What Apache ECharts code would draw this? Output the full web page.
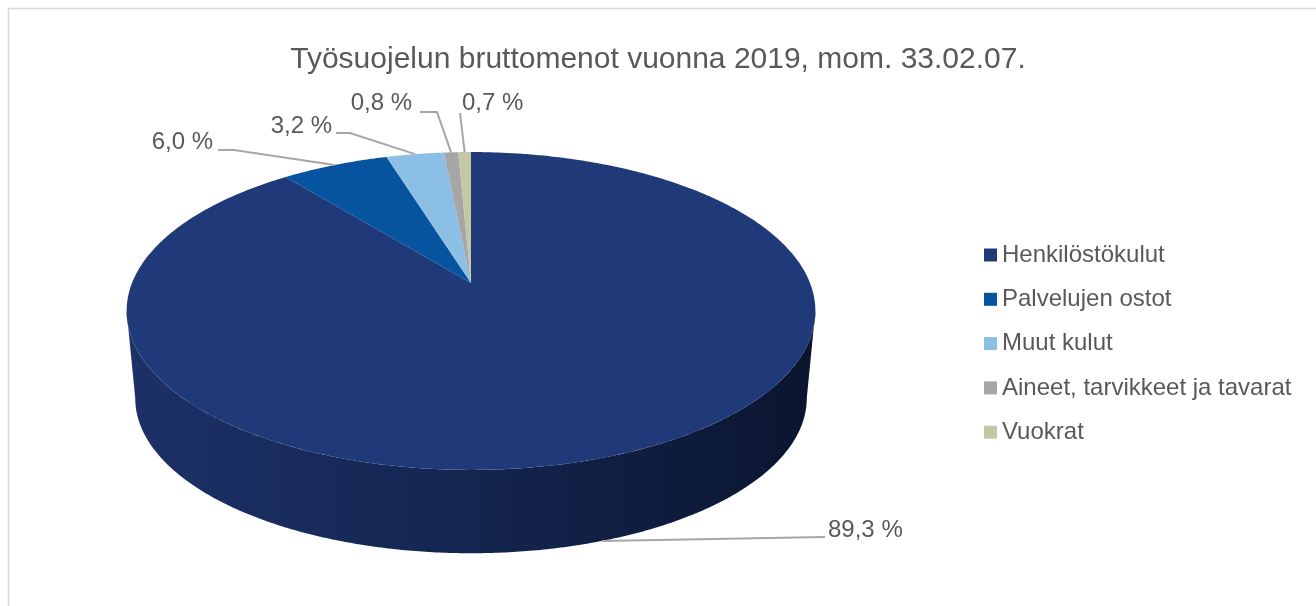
<!DOCTYPE html>
<html>
<head>
<meta charset="utf-8">
<script src="https://cdn.jsdelivr.net/npm/echarts@6/dist/echarts.min.js"></script>
<style>
html,body{margin:0;padding:0;background:#fff;}
#chart{width:1316px;height:606px;}
</style>
</head>
<body>
<div id="chart"></div>
<script>
// ---- data ----
const title = 'Työsuojelun bruttomenot vuonna 2019, mom. 33.02.07.';
const categories = ['Henkilöstökulut', 'Palvelujen ostot', 'Muut kulut', 'Aineet, tarvikkeet ja tavarat', 'Vuokrat'];
const values = [89.3, 6.0, 3.2, 0.8, 0.7];
const valueLabels = ['89,3 %', '6,0 %', '3,2 %', '0,8 %', '0,7 %'];

// ---- styles / layout ----
const colors = ['#1f3979', '#06539f', '#8cbfe6', '#a6a6a6', '#c4c6a4'];
const FONT = '"Liberation Sans", Arial, sans-serif';
const TEXT = '#595959';
const G = { cx: 471, cy: 283, rx: 339, ry: 154, p: 0.176, depthCy: 371, depthK: 0.975 };
// label leader layout: [elbowX, elbowY, endX, endY, textX, textY, align]
const labelLayout = [
  [null, null, 825, 537, 828, 530, 'left'],
  [234, 150, 218, 150, 213, 142, 'right'],
  [350, 133, 336, 133, 332, 126, 'right'],
  [437, 112, 420, 112, 412, 103, 'right'],
  [null, null, 460, 113, 462, 103, 'left']
];

const total = values.reduce((a, b) => a + b, 0);
function angles(i) {
  let s = 0;
  for (let k = 0; k < i; k++) s += values[k];
  return [s / total * Math.PI * 2, (s + values[i]) / total * Math.PI * 2];
}
function topPt(t) {
  const s = 1 / (1 + G.p * Math.cos(t));
  return [G.cx + G.rx * Math.sin(t) * s, G.cy - G.ry * Math.cos(t) * s];
}
function botPt(t) {
  const s = 1 / (1 + G.p * Math.cos(t));
  return [G.cx + G.rx * G.depthK * Math.sin(t) * s, G.depthCy - G.ry * G.depthK * Math.cos(t) * s];
}
function arc(fn, a, b) {
  const pts = [];
  const n = Math.max(2, Math.ceil(Math.abs(b - a) / (Math.PI / 360)));
  for (let j = 0; j <= n; j++) pts.push(fn(a + (b - a) * j / n));
  return pts;
}

function makeRender(i) {
  return function (params, api) {
    const [a, b] = angles(i);
    const children = [];
    // visible side (front band)
    const tt = Math.acos(-G.p);
    const sa = Math.max(a, tt), sb = Math.min(b, Math.PI * 2 - tt);
    if (sb > sa) {
      const pts = arc(topPt, sa, sb).concat(arc(botPt, sb, sa));
      children.push({
        type: 'polygon',
        shape: { points: pts },
        style: {
          fill: new echarts.graphic.LinearGradient(0, 0, 1, 0, [
            { offset: 0, color: '#1d3169' },
            { offset: 0.5, color: '#14254f' },
            { offset: 1, color: '#0a152f' }
          ])
        }
      });
    }
    // top face
    const top = [[G.cx, G.cy]].concat(arc(topPt, a, b));
    children.push({ type: 'polygon', shape: { points: top }, style: { fill: api.visual('color') } });
    // label
    const mid = (a + b) / 2;
    const onFront = Math.cos(mid) < -G.p;
    const anchor = onFront ? botPt(mid) : topPt(mid);
    const L = labelLayout[i];
    const line = [anchor];
    if (L[0] !== null) line.push([L[0], L[1]]);
    line.push([L[2], L[3]]);
    children.push({ type: 'polyline', shape: { points: line }, style: { stroke: '#a6a6a6', lineWidth: 2, fill: null } });
    children.push({
      type: 'text',
      style: { text: valueLabels[i], x: L[4], y: L[5], align: L[6], verticalAlign: 'middle',
               fill: TEXT, fontSize: 24, fontFamily: FONT }
    });
    return { type: 'group', children: children };
  };
}

const chart = echarts.init(document.getElementById('chart'), null, { renderer: 'canvas' });
chart.setOption({
  animation: false,
  backgroundColor: '#ffffff',
  title: {
    text: title, left: 'center', top: 40,
    textStyle: { color: TEXT, fontSize: 30, fontWeight: 'normal', fontFamily: FONT }
  },
  legend: {
    orient: 'vertical', left: 979, top: 238,
    data: categories, icon: 'rect', itemWidth: 13, itemHeight: 13, itemGap: 20.3,
    textStyle: { color: TEXT, fontSize: 24, lineHeight: 24, fontFamily: FONT }
  },
  graphic: [{
    type: 'rect', silent: true, z: -1,
    shape: { x: 8.5, y: 8.5, width: 1320, height: 620 },
    style: { fill: null, stroke: '#d9d9d9', lineWidth: 1.5 }
  }],
  series: categories.map((c, i) => ({
    type: 'custom', name: c, coordinateSystem: 'none', silent: true,
    data: [values[i]],
    itemStyle: { color: colors[i] },
    renderItem: makeRender(i)
  }))
});
</script>
</body>
</html>
